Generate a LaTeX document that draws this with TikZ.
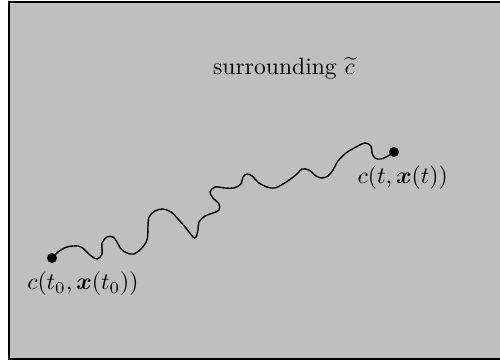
\documentclass[tikz,border=0pt]{standalone}
\usepackage{amsmath}
\usetikzlibrary{positioning}

\tikzset{
  dot/.style={circle, fill=black, inner sep=0pt, minimum size=4.3pt},
  path/.style={line width=0.6pt},
}

\begin{document}
\begin{tikzpicture}[x=0.0149cm, y=-0.0149cm]
  \useasboundingbox (0,0) rectangle (500,360);
  \draw[line width=1pt, fill=lightgray] (9,2) rectangle (504,359);

  \node (surr) at (284,68) {surrounding $\widetilde{c}$};

  \node[dot] (start) at (52,258) {};
  \node[dot] (end) at (394,152) {};
  \node[below=0pt of start, xshift=0.46cm] (startlabel) {$c(t_0,\boldsymbol{x}(t_0))$};
  \node[below=0pt of end, xshift=0.13cm] (endlabel) {$c(t,\boldsymbol{x}(t))$};

  % the wiggly trajectory
  \draw[path] plot[smooth, tension=0.55] coordinates {
    (start.center) (58,252) (67,247) (78,246) (84,249) (90,255) (97,259)
    (102,254) (102,243) (107,237) (113,237) (117,242) (121,249) (127,253)
    (134,254) (141,249) (147,240) (148,227) (149,217) (155,211) (163,209)
    (171,212) (178,219) (186,228) (193,237) (196,237) (198,230) (199,222)
    (205,216) (213,213) (219,210) (219,204) (213,198) (210,192) (215,187)
    (225,188) (234,188) (241,184) (243,177) (247,174) (252,176) (259,183)
    (267,187) (275,188) (283,184) (292,178) (298,173) (302,169) (309,170)
    (316,176) (322,178) (328,176) (333,170) (338,161) (346,153) (356,147)
    (365,143) (371,146) (372,153) (375,158) (381,159) (388,156) (end.center)
  };
\end{tikzpicture}
\end{document}
